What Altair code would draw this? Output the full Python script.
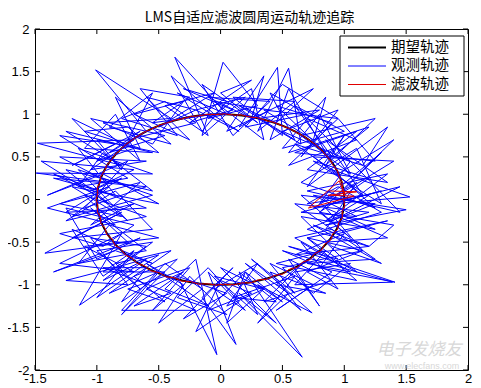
import altair as alt
import pandas as pd

title_text = ["LMS自适应滤波圆周运动轨迹追踪"]
series_names = ["期望轨迹", "观测轨迹", "滤波轨迹"]
series_colors = ["#000000", "#0000ff", "#e00000"]
series_widths = [2, 1, 1]
x_ticks = [-1.5, -1, -0.5, 0, 0.5, 1, 1.5, 2]
y_ticks = [-2, -1.5, -1, -0.5, 0, 0.5, 1, 1.5, 2]
watermark_main = ["电子发烧友"]
watermark_url = ["www.elecfans.com"]

# desired trajectory (unit circle, 4 degree steps)
circle_x = [1.0, 0.998, 0.990, 0.978, 0.961, 0.940, 0.914, 0.883, 0.848, 0.809, 0.766, 0.719, 0.669, 0.616, 0.559, 0.5, 0.438, 0.375, 0.309, 0.242, 0.174, 0.105, 0.035,
            -0.035, -0.105, -0.174, -0.242, -0.309, -0.375, -0.438, -0.5, -0.559, -0.616, -0.669, -0.719, -0.766, -0.809, -0.848, -0.883, -0.914, -0.940, -0.961, -0.978, -0.990, -0.998,
            -1.0,
            -0.998, -0.990, -0.978, -0.961, -0.940, -0.914, -0.883, -0.848, -0.809, -0.766, -0.719, -0.669, -0.616, -0.559, -0.5, -0.438, -0.375, -0.309, -0.242, -0.174, -0.105, -0.035,
            0.035, 0.105, 0.174, 0.242, 0.309, 0.375, 0.438, 0.5, 0.559, 0.616, 0.669, 0.719, 0.766, 0.809, 0.848, 0.883, 0.914, 0.940, 0.961, 0.978, 0.990, 0.998,
            1.0]
circle_y = [0.0, 0.070, 0.139, 0.208, 0.276, 0.342, 0.407, 0.469, 0.530, 0.588, 0.643, 0.695, 0.743, 0.788, 0.829, 0.866, 0.899, 0.927, 0.951, 0.970, 0.985, 0.995, 0.999,
            0.999, 0.995, 0.985, 0.970, 0.951, 0.927, 0.899, 0.866, 0.829, 0.788, 0.743, 0.695, 0.643, 0.588, 0.530, 0.469, 0.407, 0.342, 0.276, 0.208, 0.139, 0.070,
            0.0,
            -0.070, -0.139, -0.208, -0.276, -0.342, -0.407, -0.469, -0.530, -0.588, -0.643, -0.695, -0.743, -0.788, -0.829, -0.866, -0.899, -0.927, -0.951, -0.970, -0.985, -0.995, -0.999,
            -0.999, -0.995, -0.985, -0.970, -0.951, -0.927, -0.899, -0.866, -0.829, -0.788, -0.743, -0.695, -0.643, -0.588, -0.530, -0.469, -0.407, -0.342, -0.276, -0.208, -0.139, -0.070,
            0.0]

# observed (noisy) trajectory, first pass around the circle
blue_x1 = [1.20, 0.85, 1.35, 0.70, 1.45, 1.05, 0.80, 1.30, 0.95, 1.40, 0.75, 1.15, 0.85, 1.35, 0.70, 1.10, 0.60, 1.25, 0.95, 0.55, 1.10, 0.70, 1.05, 0.50, 0.95,
           0.65, 0.90, 0.45, 0.85, 0.55, 0.40, 0.80, 0.30, 0.65, 0.55, 0.30, 0.60, 0.10, 0.50, 0.46, 0.15, 0.40, -0.05, 0.35, 0.25, -0.10, 0.30, 0.02, -0.15, 0.20,
           -0.20, 0.15, -0.35, 0.05, -0.37, -0.10, -0.45, -0.05, -0.50, -0.20, -0.60, -0.25, -0.70, -0.30, -0.55, -0.95, -0.40, -1.01, -0.60, -0.90, -0.45, -1.05, -0.65, -0.85, -1.10,
           -0.55, -1.25, -0.80, -1.48, -0.70, -1.05, -0.60, -1.30, -0.90, -1.49, -0.55, -1.15, -0.85, -1.35, -0.60, -1.10, -0.75, -1.40, -0.95, -0.50, -1.20, -0.80, -1.30, -0.65, -1.05,
           -0.70, -1.25, -0.85, -0.55, -1.20, -0.80, -1.42, -0.75, -1.05, -0.60, -1.15, -0.90, -0.50, -1.10, -0.70, -1.30, -0.80, -1.14, -0.60, -0.95, -0.55, -1.00, -0.65, -0.85, -0.40,
           -0.90, -0.50, -0.80, -0.35, -0.70, -0.45, -0.75, -0.25, -0.55, -0.30, -0.60, -0.10, -0.45, -0.20, -0.03, -0.35, 0.05, -0.30, 0.10, -0.15, 0.125, -0.10, 0.20, -0.05, 0.30,
           0.05, 0.35, 0.00, 0.45, 0.15, 0.66, 0.20, 0.50, 0.30, 0.74, 0.25, 0.60, 0.40, 0.75, 0.45, 0.90, 0.50, 1.39, 0.60, 0.85, 0.45, 1.10, 0.70, 0.95, 0.55,
           1.41, 0.80, 1.00, 0.60, 1.20, 0.75, 1.30, 0.90, 0.65, 1.25, 0.85, 1.15, 0.70, 1.35, 0.95, 0.60, 1.20, 0.85, 1.50, 0.75, 1.10, 0.65, 1.30, 0.90, 1.53]
blue_y1 = [0.05, -0.25, 0.30, 0.10, -0.15, 0.45, -0.05, 0.55, 0.05, 0.45, 0.50, 0.05, 0.70, 0.20, 0.35, 0.80, 0.55, 0.45, 0.95, 0.40, 0.70, 0.95, 0.45, 0.80, 1.05,
           0.50, 0.90, 1.10, 0.55, 1.30, 0.70, 1.05, 0.95, 0.65, 1.54, 0.80, 1.15, 1.20, 0.75, 1.55, 0.85, 1.05, 1.15, 0.70, 1.30, 0.95, 1.10, 1.61, 0.75, 1.20,
           1.05, 0.80, 1.25, 1.00, 1.67, 0.75, 1.10, 1.25, 0.85, 1.05, 1.20, 0.70, 1.00, 1.15, 0.65, 0.90, 0.95, 1.52, 0.80, 0.55, 0.75, 0.95, 0.45, 1.00, 0.60,
           0.55, 0.80, 0.40, 0.66, 0.70, 0.35, 0.45, 0.50, 0.20, 0.31, 0.30, 0.60, 0.05, 0.25, 0.15, -0.10, 0.45, 0.05, 0.30, -0.05, 0.15, -0.20, -0.05, 0.20, -0.30,
           -0.05, -0.25, 0.10, -0.35, -0.45, -0.15, -0.63, -0.50, -0.10, -0.60, -0.75, -0.30, -0.45, -0.55, -0.85, -0.75, -0.40, -1.24, -0.70, -0.95, -0.50, -0.60, -1.05, -0.75, -0.60,
           -1.10, -0.85, -1.35, -0.70, -0.90, -1.20, -1.05, -0.80, -1.30, -1.00, -0.75, -1.25, -1.05, -0.70, -1.82, -0.90, -1.10, -1.40, -0.80, -1.15, -1.70, -0.85, -1.30, -1.05, -0.75,
           -1.25, -1.05, -0.80, -1.45, -1.10, -1.85, -0.85, -1.20, -1.00, -1.33, -0.70, -1.10, -0.75, -1.00, -1.30, -0.85, -0.60, -0.97, -1.00, -0.60, -0.75, -0.95, -0.45, -0.70, -0.55,
           -0.97, -0.80, -0.40, -0.65, -0.55, -0.30, -0.75, -0.55, -0.20, -0.35, -0.10, -0.60, -0.45, -0.25, -0.40, -0.05, -0.15, -0.30, -0.12, 0.05, -0.20, -0.15, 0.10, -0.05, 0.03]

# observed trajectory, second pass around the circle
blue_x2 = [0.90, 1.25, 0.65, 1.10, 1.30, 0.75, 1.20, 0.80, 1.40, 0.95, 0.60, 1.15, 1.35, 0.70, 1.00, 0.85, 1.25, 0.65, 1.05, 0.80, 0.55, 1.20, 0.90, 0.60, 1.00,
           0.50, 0.85, 0.75, 0.35, 0.95, 0.50, 0.20, 0.70, 0.40, 0.60, 0.15, 0.45, 0.75, 0.05, 0.35, 0.25, -0.10, 0.40, 0.10, -0.15, 0.30, 0.00, 0.25, -0.25, 0.10,
           -0.30, 0.05, -0.15, -0.40, -0.05, -0.55, -0.25, -0.65, -0.35, -0.80, -0.45, -0.20, -0.75, -0.55, -0.90, -0.40, -0.85, -0.65, -1.10, -0.75, -0.50, -1.00, -0.80, -1.20, -0.70,
           -1.00, -0.65, -1.20, -0.85, -1.30, -0.75, -1.15, -0.95, -0.55, -1.25, -0.90, -1.45, -0.70, -1.05, -0.80, -1.25, -0.60, -1.35, -1.00, -0.75, -1.15, -0.55, -1.20, -0.90, -1.40,
           -0.85, -1.10, -0.60, -1.30, -0.95, -0.70, -1.25, -1.00, -0.65, -1.35, -0.85, -0.55, -1.20, -0.95, -0.60, -1.05, -0.75, -1.25, -0.85, -0.50, -1.00, -0.70, -0.95, -0.45, -0.80,
           -0.60, -0.95, -0.40, -0.70, -0.30, -0.60, -0.20, -0.80, -0.45, -0.15, -0.50, -0.25, 0.05, -0.35, -0.10, 0.15, -0.20, 0.00, 0.25, -0.10, 0.20, 0.05, 0.35, -0.05, 0.30,
           0.15, 0.45, 0.10, 0.60, 0.30, 0.55, 0.20, 0.65, 0.40, 0.85, 0.45, 0.70, 0.35, 0.90, 0.55, 0.80, 0.60, 1.05, 0.75, 0.50, 1.15, 0.70, 0.95, 0.65, 1.05,
           0.70, 1.25, 0.90, 0.60, 1.10, 0.85, 1.35, 0.95, 0.70, 1.20, 1.40, 0.80, 1.05, 0.65, 1.25, 0.90, 1.45, 0.75, 1.10, 0.85, 1.30, 0.95, 0.70, 1.15, 1.20]
blue_y2 = [0.35, -0.10, 0.20, 0.60, -0.05, 0.45, 0.25, -0.15, 0.70, 0.30, 0.65, 0.40, 0.85, 0.15, 0.75, 0.40, 0.95, 0.75, 0.30, 1.00, 0.55, 0.85, 0.50, 1.10, 0.80,
           0.60, 1.20, 0.70, 1.05, 0.95, 1.35, 0.85, 1.00, 1.25, 0.70, 1.10, 0.90, 1.30, 0.80, 1.45, 0.95, 1.20, 1.15, 0.75, 1.35, 0.90, 1.25, 1.40, 0.90, 1.05,
           1.30, 1.15, 0.80, 1.45, 1.00, 0.90, 1.20, 1.30, 0.75, 0.95, 1.15, 0.90, 0.70, 1.25, 0.85, 0.65, 1.20, 0.60, 0.80, 0.85, 0.55, 0.70, 0.35, 0.95, 0.60,
           0.45, 0.80, 0.40, 0.65, 0.75, 0.25, 0.15, 0.55, 0.10, 0.35, -0.05, 0.45, 0.35, 0.10, 0.25, -0.15, -0.10, 0.30, 0.05, -0.25, 0.35, 0.05, -0.20, 0.15, -0.10,
           -0.30, 0.05, -0.20, -0.40, -0.55, -0.30, -0.10, -0.70, -0.45, -0.85, -0.60, -0.75, -0.35, -0.90, -0.55, -0.45, -1.00, -0.95, -0.80, -0.65, -1.15, -0.60, -0.85, -0.85, -1.20,
           -0.80, -0.80, -1.10, -1.25, -0.85, -1.05, -1.30, -1.30, -0.75, -1.05, -1.45, -0.90, -1.35, -1.15, -0.80, -1.20, -1.55, -0.95, -1.10, -1.30, -0.85, -1.45, -1.05, -0.90, -1.35,
           -0.85, -1.20, -1.15, -0.90, -1.45, -1.10, -0.75, -1.30, -0.85, -1.10, -1.00, -0.70, -1.20, -0.95, -0.70, -1.25, -0.85, -0.75, -1.10, -0.80, -0.60, -0.85, -1.05, -0.50, -0.85,
           -0.75, -0.70, -0.35, -0.45, -0.85, -0.50, -0.45, -0.20, -0.35, -0.55, -0.30, -0.15, -0.45, 0.05, -0.05, -0.25, 0.15, -0.10, 0.20, -0.35, -0.15, 0.15, -0.05, 0.05, 0.05]

# filtered trajectory (initial transient near (1, 0), then follows the circle)
red_x = [0.88, 1.10, 0.87, 1.08, 0.71, 0.96, 1.00,
         1.005, 0.985, 0.982, 0.955, 0.945, 0.905, 0.888, 0.842, 0.815, 0.760, 0.725, 0.662, 0.620, 0.552, 0.505, 0.432, 0.380, 0.302, 0.248, 0.168, 0.110, 0.030,
         -0.040, -0.100, -0.180, -0.236, -0.315, -0.370, -0.445, -0.494, -0.566, -0.610, -0.676, -0.712, -0.773, -0.802, -0.855, -0.876, -0.921, -0.933, -0.968, -0.972, -0.997, -0.992,
         -1.006,
         -0.992, -0.996, -0.972, -0.967, -0.934, -0.920, -0.877, -0.854, -0.803, -0.772, -0.713, -0.675, -0.610, -0.565, -0.494, -0.444, -0.369, -0.315, -0.236, -0.180, -0.099, -0.041,
         0.030, 0.110, 0.168, 0.248, 0.302, 0.381, 0.432, 0.506, 0.552, 0.622, 0.662, 0.726, 0.759, 0.816, 0.841, 0.890, 0.906, 0.947, 0.954, 0.984, 0.983, 1.004,
         0.995]
red_y = [0.10, 0.09, 0.05, 0.04, -0.10, 0.22, 0.05,
         0.068, 0.145, 0.200, 0.282, 0.335, 0.412, 0.462, 0.535, 0.580, 0.650, 0.690, 0.750, 0.782, 0.835, 0.860, 0.905, 0.922, 0.958, 0.965, 0.992, 0.990, 1.005,
         0.995, 1.000, 0.980, 0.975, 0.945, 0.932, 0.892, 0.872, 0.822, 0.795, 0.736, 0.702, 0.636, 0.595, 0.523, 0.476, 0.400, 0.349, 0.270, 0.214, 0.133, 0.076,
         -0.005,
         -0.064, -0.145, -0.202, -0.282, -0.336, -0.413, -0.463, -0.537, -0.582, -0.649, -0.689, -0.750, -0.782, -0.836, -0.859, -0.905, -0.921, -0.957, -0.964, -0.992, -0.989, -1.005,
         -0.994, -1.001, -0.979, -0.976, -0.944, -0.933, -0.892, -0.873, -0.821, -0.796, -0.735, -0.703, -0.636, -0.595, -0.524, -0.476, -0.401, -0.349, -0.270, -0.215, -0.132, -0.077,
         0.004]


def frame(xs, ys):
    n = min(len(xs), len(ys))
    return pd.DataFrame({"x": xs[:n], "y": ys[:n], "i": list(range(n))})


W, H = 433, 341
AX_FONT = "Liberation Sans"
CJK_FONT = "Noto Sans CJK SC"

x_scale = alt.Scale(domain=[-1.5, 2], nice=False, zero=False)
y_scale = alt.Scale(domain=[-2, 2], nice=False, zero=False)

x_axis = alt.Axis(values=x_ticks, title=None, grid=False, ticks=False, tickSize=0, domain=False,
                  labelFont=AX_FONT, labelFontSize=13, labelColor="black", labelPadding=2,
                  labelFlush=False, labelOverlap=False, labelExpr="toString(datum.value)")
y_axis = alt.Axis(values=y_ticks, title=None, grid=False, ticks=False, tickSize=0, domain=False,
                  labelFont=AX_FONT, labelFontSize=13, labelColor="black", labelPadding=6,
                  labelFlush=False, labelOverlap=False, labelExpr="toString(datum.value)")


def line_layer(df, color, width):
    return alt.Chart(df).mark_line(color=color, strokeWidth=width, strokeJoin="miter").encode(
        x=alt.X("x:Q", scale=x_scale, axis=x_axis),
        y=alt.Y("y:Q", scale=y_scale, axis=y_axis),
        order=alt.Order("i:Q"),
    )


black = line_layer(frame(circle_x, circle_y), series_colors[0], series_widths[0])
blue = line_layer(frame(blue_x1 + blue_x2, blue_y1 + blue_y2), series_colors[1], series_widths[1])
red = line_layer(frame(red_x, red_y), series_colors[2], series_widths[2])

# inside tick marks on all four sides (positions come from the tick values via the scales)
xt = pd.DataFrame({"x": x_ticks})
yt = pd.DataFrame({"y": y_ticks})
tick_len = 5
xb = alt.Chart(xt).mark_rule(color="black", strokeWidth=1).encode(
    x=alt.X("x:Q", scale=x_scale, axis=x_axis), y=alt.value(H), y2=alt.value(H - tick_len))
xtp = alt.Chart(xt).mark_rule(color="black", strokeWidth=1).encode(
    x=alt.X("x:Q", scale=x_scale, axis=x_axis), y=alt.value(0), y2=alt.value(tick_len))
yl = alt.Chart(yt).mark_rule(color="black", strokeWidth=1).encode(
    y=alt.Y("y:Q", scale=y_scale, axis=y_axis), x=alt.value(0), x2=alt.value(tick_len))
yr = alt.Chart(yt).mark_rule(color="black", strokeWidth=1).encode(
    y=alt.Y("y:Q", scale=y_scale, axis=y_axis), x=alt.value(W), x2=alt.value(W - tick_len))

# title as a text mark centred above the plot
title_layer = alt.Chart(pd.DataFrame({"t": title_text})).mark_text(
    font=CJK_FONT, fontSize=14, color="black", align="center", baseline="middle"
).encode(text="t:N", x=alt.value(W / 2 - 2), y=alt.value(-11))

# legend box drawn by hand (MATLAB style)
LX0, LX1, LY0, LY1 = 305, 429, 7, 67
row_y = [18.5, 37, 55.5]
one = pd.DataFrame({"k": [0]})
legend_layers = [
    alt.Chart(one).mark_rect(fill="white", stroke="black", strokeWidth=1).encode(
        x=alt.value(LX0), x2=alt.value(LX1), y=alt.value(LY0), y2=alt.value(LY1))
]
for name, col, wid, ry in zip(series_names, series_colors, series_widths, row_y):
    legend_layers.append(
        alt.Chart(one).mark_rule(color=col, strokeWidth=wid).encode(
            x=alt.value(313), x2=alt.value(351), y=alt.value(ry)))
    legend_layers.append(
        alt.Chart(pd.DataFrame({"t": [name]})).mark_text(
            font=CJK_FONT, fontSize=14.5, color="black", align="left", baseline="middle"
        ).encode(text="t:N", x=alt.value(356), y=alt.value(ry)))

wm1 = alt.Chart(pd.DataFrame({"t": watermark_main})).mark_text(
    font=CJK_FONT, fontSize=17, fontStyle="italic", color="#d8d8d8", align="center", baseline="middle"
).encode(text="t:N", x=alt.value(384), y=alt.value(321))
wm2 = alt.Chart(pd.DataFrame({"t": watermark_url})).mark_text(
    font=AX_FONT, fontSize=9, color="#d8d8d8", align="center", baseline="middle"
).encode(text="t:N", x=alt.value(387), y=alt.value(337))

chart = alt.layer(black, blue, red, xb, xtp, yl, yr, title_layer, *legend_layers, wm1, wm2).properties(
    width=W, height=H,
    padding={"left": 27, "top": 21, "right": 5, "bottom": 18},
    autosize=alt.AutoSizeParams(type="none"),
    background="white",
).configure_view(stroke="black", strokeWidth=1)

chart.save("out.html", embed_options={"renderer": "svg", "actions": False})
